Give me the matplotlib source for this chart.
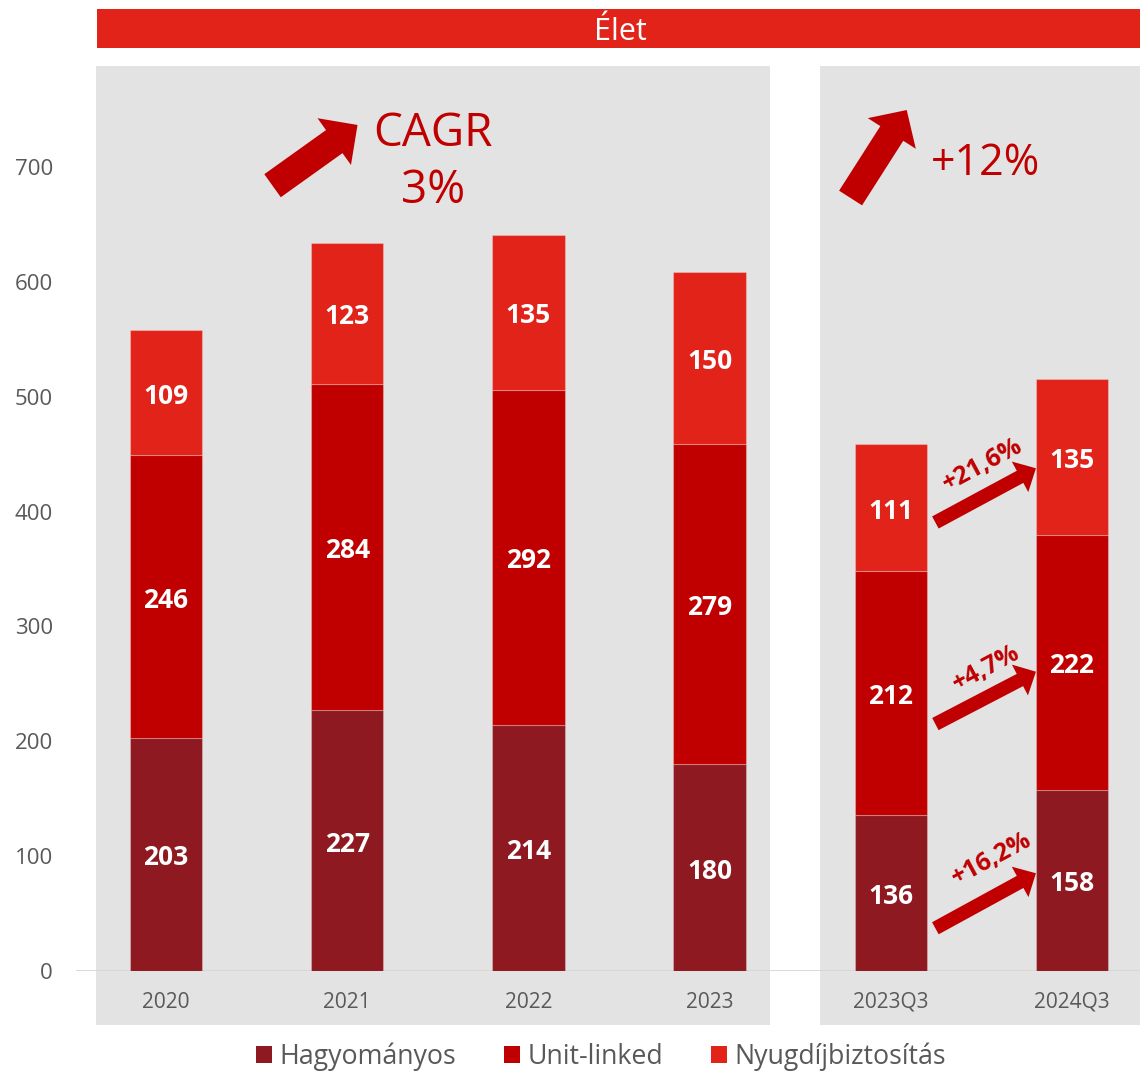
import matplotlib
matplotlib.use("Agg")
import matplotlib.pyplot as plt
from matplotlib.patches import Rectangle, Patch
import numpy as np

plt.rcParams['font.family'] = ['Open Sans', 'DejaVu Sans']

# ---------------- data ----------------
categories = ["2020", "2021", "2022", "2023", "2023Q3", "2024Q3"]
hagyomanyos = [203, 227, 214, 180, 136, 158]
unit_linked = [246, 284, 292, 279, 212, 222]
nyugdij = [109, 123, 135, 150, 111, 135]
series_names = ["Hagyományos", "Unit-linked", "Nyugdíjbiztosítás"]
growth_labels = ["+16,2%", "+4,7%", "+21,6%"]
title = "Élet"
cagr_text = ["CAGR", "3%"]
q_growth_text = "+12%"
yticks = [0, 100, 200, 300, 400, 500, 600, 700]

# ---------------- style ----------------
C_HAG = "#8E1920"
C_UL = "#C00000"
C_NY = "#E2231A"
C_GRAY = "#E3E3E3"
C_TXT = "#595959"
C_ARROW = "#C00000"

W, H = 1140, 1071
fig = plt.figure(figsize=(W / 100, H / 100), dpi=100)

def fx(px):
    return px / W

def fy(py):
    return (H - py) / H

# grey panels
fig.add_artist(Rectangle((fx(96), fy(1024.5)), fx(770) - fx(96), fy(66) - fy(1024.5),
                         transform=fig.transFigure, color=C_GRAY, zorder=-2, lw=0))
fig.add_artist(Rectangle((fx(819.5), fy(1024.5)), fx(1140) - fx(819.5), fy(66) - fy(1024.5),
                         transform=fig.transFigure, color=C_GRAY, zorder=-2, lw=0))
# title bar
fig.add_artist(Rectangle((fx(97), fy(47.5)), fx(1140) - fx(97), fy(9) - fy(47.5),
                         transform=fig.transFigure, color=C_NY, zorder=-1, lw=0))
fig.text(fx(620), fy(40), title, color="white", fontsize=22, ha="center", va="baseline")

ax = fig.add_axes([fx(76), fy(971), fx(1140) - fx(76), fy(66) - fy(971)])
ax.patch.set_visible(False)
ax.set_zorder(1)

x = np.arange(len(categories))
bw = 0.4
edge = (1, 1, 1, 0.25)
bottoms2 = np.array(hagyomanyos)
bottoms3 = bottoms2 + np.array(unit_linked)
b1 = ax.bar(x, hagyomanyos, bw, color=C_HAG, edgecolor=edge, linewidth=0.8, zorder=2)
b2 = ax.bar(x, unit_linked, bw, bottom=bottoms2, color=C_UL, edgecolor=edge, linewidth=0.8, zorder=2)
b3 = ax.bar(x, nyugdij, bw, bottom=bottoms3, color=C_NY, edgecolor=edge, linewidth=0.8, zorder=2)
for cont, vals in zip((b1, b2, b3), (hagyomanyos, unit_linked, nyugdij)):
    txts = ax.bar_label(cont, labels=[str(v) for v in vals], label_type="center",
                        color="white", fontsize=19, fontweight="bold")
    for t in txts:
        t.xyann = (0, -2.5)

ax.set_xlim((76 - 166) / 181.2, (1140 - 166) / 181.2)
ax.set_ylim(0, (971 - 66) / 1.14857)
ax.set_yticks(yticks)
ax.set_yticklabels([str(v) for v in yticks])
ax.set_xticks(x)
ax.set_xticklabels(categories)
ax.tick_params(axis="y", length=0, pad=16.5, labelsize=16, labelcolor=C_TXT)
ax.tick_params(axis="x", length=0, pad=15, labelsize=15, labelcolor=C_TXT)
for s in ax.spines.values():
    s.set_visible(False)
ax.axhline(0, color="#D6D6D6", lw=2, zorder=1)

# big arrows + growth texts
def arrow(tail, tip, ms, hl, hw, tw):
    ax.annotate("", xy=tip, xytext=tail,
                arrowprops=dict(arrowstyle=f"simple,head_length={hl},head_width={hw},tail_width={tw}",
                                color=C_ARROW, shrinkA=0, shrinkB=0, mutation_scale=ms, lw=0),
                annotation_clip=False, zorder=3)

arrow((0.588, 683.7), (1.057, 736.6), 20, 1.03, 2.07, 1.02)
arrow((3.778, 673.0), (4.088, 749.6), 20, 1.0, 2.05, 0.98)
ax.text(1.476, 718.5, cagr_text[0], color=C_ARROW, fontsize=33, ha="center", va="baseline")
ax.text(1.476, 668.7, cagr_text[1], color=C_ARROW, fontsize=33, ha="center", va="baseline")
ax.text(4.523, 693.0, q_growth_text, color=C_ARROW, fontsize=31, ha="center", va="baseline")

# small arrows between quarters
small_tails = [(4.246, 37.2), (4.246, 215.0), (4.246, 390.5)]
small_tips = [(4.801, 85.1), (4.801, 260.6), (4.801, 437.7)]
label_pos = [(4.556, 97.5), (4.525, 263.8), (4.509, 440.5)]
for t, h, lp, lab in zip(small_tails, small_tips, label_pos, growth_labels):
    arrow(t, h, 10, 1.3, 2.5, 0.99)
    ax.text(lp[0], lp[1], lab, color=C_ARROW, fontsize=18, fontweight="bold",
            rotation=28.3, rotation_mode="anchor", ha="center", va="center", zorder=3)

handles = [Patch(facecolor=c, edgecolor="none") for c in (C_HAG, C_UL, C_NY)]
fig.legend(handles, series_names, loc="center", bbox_to_anchor=(fx(601), fy(1057)),
           ncol=3, frameon=False, fontsize=19.3, handlelength=0.6, handleheight=0.6,
           handletextpad=0.26, columnspacing=1.8, labelcolor=C_TXT, borderaxespad=0,
           borderpad=0)

fig.savefig("out.png", dpi=100)
